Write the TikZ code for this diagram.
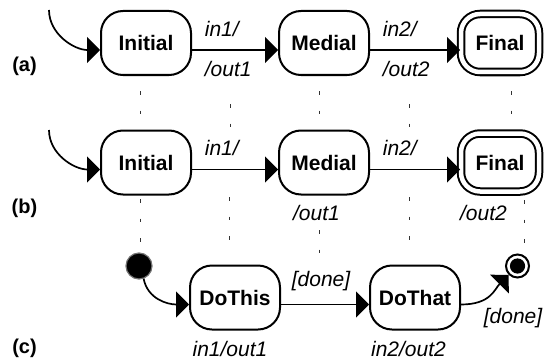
\documentclass[tikz,border=0pt]{standalone}
\usepackage{fontspec}
\setmainfont{Liberation Sans}
\usetikzlibrary{arrows.meta,positioning}

\begin{document}
\begin{tikzpicture}[x=0.5pt,y=-0.5pt,>={Triangle[length=6.5pt,width=13pt]},
                    node distance=89pt,font=\fontsize{10.5}{12}\selectfont]
  \tikzstyle{stbox}=[draw,line width=1pt,rounded corners=11pt,minimum width=45pt,
                     minimum height=32pt,font=\fontsize{10.5}{12}\selectfont\bfseries]
  \tikzstyle{finbox}=[stbox,double,double distance=2.25pt,minimum width=39pt,
                      minimum height=29pt,rounded corners=9.5pt]
  \tikzstyle{ini}=[circle,fill=black,draw=black!55,line width=0.6pt,inner sep=0pt,
                   minimum size=13pt]
  \tikzstyle{fin}=[circle,draw,line width=1pt,inner sep=0pt,minimum size=11.5pt,
                   path picture={\fill (path picture bounding box.center) circle (3.8pt);}]
  \tikzstyle{trans}=[->,line width=0.85pt]
  \tikzstyle{lbl}=[inner sep=0pt,font=\fontsize{10.5}{12}\selectfont\itshape]
  \tikzstyle{tag}=[inner sep=0pt,font=\fontsize{10}{12}\selectfont\bfseries]
  \tikzstyle{corr}=[line width=0.5pt,black!80,dash pattern=on 1.75pt off 8pt]

  \useasboundingbox (0,0) rectangle (544,358);

  % correspondence guides
  \foreach \x/\ya/\yb in {140/91/114,230/104/128,319/91/114,409/104/128,511/91/114,
                          140/199/242,229/197/240,319/230/253,409/197/240,524/200/243}
    \draw[corr] (\x,\ya) -- (\x,\yb);

  % (a)
  \node[tag]    (la) at (24.5,71) [anchor=base] {(a)};
  \node[stbox]  (ia) at (146,43)                {Initial};
  \node[stbox]  (ma) [right of=ia]              {Medial};
  \node[finbox] (fa) [node distance=88pt,right of=ma] {Final};
  \coordinate   (sa) at (49,10);

  \draw[trans] (sa) .. controls +(0,24) and +(-26,0) .. ([yshift=-3.5pt]ia.west);
  \draw[trans] ([yshift=-3.5pt]ia.east) -- ([yshift=-3.5pt]ma.west)
        node[lbl,at start,anchor=base west,xshift=6pt,yshift=6.5pt] {in1/}
        node[lbl,at start,anchor=base west,xshift=6pt,yshift=-13pt] {/out1};
  \draw[trans] ([yshift=-3.5pt]ma.east) -- ([yshift=-3.5pt]fa.west)
        node[lbl,at start,anchor=base west,xshift=6pt,yshift=6.5pt] {in2/}
        node[lbl,at start,anchor=base west,xshift=6pt,yshift=-13pt] {/out2};

  % (b)
  \node[tag]    (lb) at (24.5,213) [anchor=base] {(b)};
  \node[stbox]  (ib) at (146,162.5)              {Initial};
  \node[stbox]  (mb) [right of=ib]               {Medial};
  \node[finbox] (fb) [node distance=88pt,right of=mb] {Final};
  \node[lbl]    (ob) at (316.5,220) [anchor=base] {/out1};
  \node[lbl]    (pb) at (483.5,220) [anchor=base] {/out2};
  \coordinate   (sb) at (49,130);

  \draw[trans] (sb) .. controls +(0,24) and +(-26,0) .. ([yshift=-3.5pt]ib.west);
  \draw[trans] ([yshift=-3.5pt]ib.east) -- ([yshift=-3.5pt]mb.west)
        node[lbl,at start,anchor=base west,xshift=6pt,yshift=7pt] {in1/};
  \draw[trans] ([yshift=-3.5pt]mb.east) -- ([yshift=-3.5pt]fb.west)
        node[lbl,at start,anchor=base west,xshift=6pt,yshift=7pt] {in2/};

  % (c)
  \node[tag]    (lc) at (24.5,353) [anchor=base] {(c)};
  \node[ini]    (ic) at (139,266)                {};
  \node[stbox]  (dt) at (235,297.5)              {DoThis};
  \node[stbox]  (dh) [node distance=90pt,right of=dt] {DoThat};
  \node[fin]    (fc) at (517.5,266)              {};
  \node[lbl]    (ec) at (513,323) [anchor=base]  {[done]};
  \node[lbl]    (xt) at (230,356) [anchor=base]  {in1/out1};
  \node[lbl]    (xh) at (408.5,356) [anchor=base] {in2/out2};

  \draw[trans] (ic.290) .. controls +(4,20) and +(-22,0) .. ([yshift=-3.5pt]dt.west);
  \draw[trans] ([yshift=-3.5pt]dt.east) -- ([yshift=-3.5pt]dh.west)
        node[lbl,midway,anchor=base,xshift=-2pt,yshift=9pt] {[done]};
  \draw[trans] ([yshift=-3.5pt]dh.east) .. controls +(30,0) and +(-14,14) .. (fc.225);
\end{tikzpicture}
\end{document}
